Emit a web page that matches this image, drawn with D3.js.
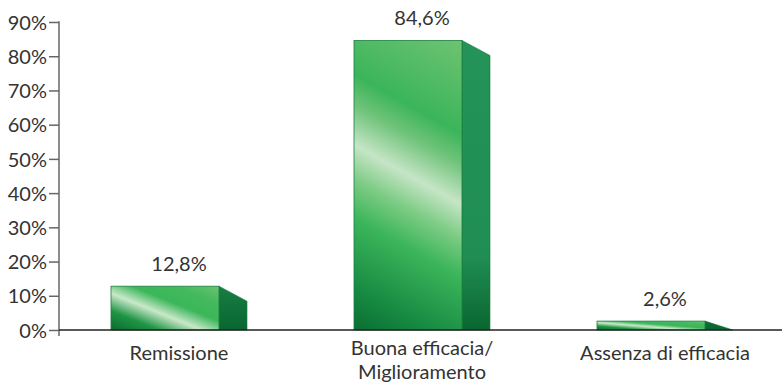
<!DOCTYPE html>
<html><head><meta charset="utf-8">
<script src="https://cdn.jsdelivr.net/npm/d3@7"></script>
<style>
body{margin:0;background:#fff;}
text{font-family:Lato,"Open Sans",sans-serif;fill:#333;}
</style></head>
<body><svg id="c" width="782" height="384"></svg>
<script>
const categories = ["Remissione", "Buona efficacia/\nMiglioramento", "Assenza di efficacia"];
const values = [12.8, 84.6, 2.6];
const valueLabels = ["12,8%", "84,6%", "2,6%"];
const yTicks = [0,10,20,30,40,50,60,70,80,90];

const svg = d3.select("#c");
const W = 782, H = 384;
const axisX = 59;
const FS = 20;
const x = d3.scaleBand().domain(categories).range([57.5, 786.5]).paddingInner(0).paddingOuter(0);
const y = d3.scaleLinear().domain([0,90]).range([330, 22]);
const frontW = 108, depthX = 28, depthY = 15;

const defs = svg.append("defs");
const fg = defs.append("linearGradient").attr("id","front").attr("x1",0).attr("y1",1).attr("x2",1).attr("y2",0);
[[0,"#0a6a2f"],[0.22,"#1f9444"],[0.42,"#c9e8c9"],[0.6,"#3bb65a"],[0.8,"#44b95d"],[1,"#6cc273"]]
  .forEach(([o,c])=>fg.append("stop").attr("offset",o).attr("stop-color",c));
const sg = defs.append("linearGradient").attr("id","side").attr("gradientUnits","userSpaceOnUse")
  .attr("x1",0).attr("y1",y(90)).attr("x2",0).attr("y2",y(0));
[[0,"#249459"],[0.76,"#208e53"],[0.88,"#157a41"],[1,"#0a6630"]]
  .forEach(([o,c])=>sg.append("stop").attr("offset",o).attr("stop-color",c));

const cx = d => x(d) + x.bandwidth()/2;
const g = svg.append("g");
categories.forEach((c,i)=>{
  const x0 = cx(c) - (frontW+depthX)/2;
  const yt = y(values[i]), y0 = y(0);
  const x1 = x0 + frontW;
  const yr = Math.min(yt + depthY, y0);
  let fill = "url(#front)";
  if (y0 - yt > 150) {
    const dx = 108, dy = 60, L = Math.hypot(dx, dy);
    const nx = -dy / L, ny = dx / L;
    const span = (x0 - x1) * nx + (y0 - yt) * ny;
    const id = "front" + i;
    const tg = defs.append("linearGradient").attr("id", id).attr("gradientUnits","userSpaceOnUse")
      .attr("x1", x1).attr("y1", yt).attr("x2", x1 + span * nx).attr("y2", yt + span * ny);
    [[0,"#6ec372"],[0.27,"#3bb55a"],[0.36,"#72c47c"],[0.47,"#c6e5c6"],[0.57,"#7ccb84"],[0.68,"#3bb55a"],[0.88,"#178a42"],[1,"#0b6d33"]]
      .forEach(([o,cc])=>tg.append("stop").attr("offset",o).attr("stop-color",cc));
    fill = `url(#${id})`;
  }
  g.append("path").attr("d", `M${x1},${yt}L${x1+depthX},${yr}L${x1+depthX},${y0}L${x1},${y0}Z`)
    .attr("fill","url(#side)").attr("stroke","#177a40").attr("stroke-width",0.6);
  g.append("rect").attr("x",x0).attr("y",yt).attr("width",frontW).attr("height",y0-yt)
    .attr("fill",fill).attr("stroke","#1b7f40").attr("stroke-width",0.8);
  svg.append("text").attr("x",cx(c)).attr("y",yt-15).attr("text-anchor","middle")
    .attr("font-size",FS).text(valueLabels[i]);
});

const ya = svg.append("g").attr("transform",`translate(${axisX},0)`)
  .call(d3.axisLeft(y).tickValues(yTicks).tickFormat(d=>d+"%").tickSize(10).tickSizeOuter(0));
ya.select(".domain").remove();
ya.selectAll(".tick line").attr("stroke","#666").attr("stroke-width",1.5);
ya.selectAll(".tick text").attr("x",-12).attr("dy","0.36em").attr("font-size",FS).attr("fill","#333")
  .style("font-family","Lato,sans-serif");
svg.append("line").attr("x1",axisX).attr("x2",axisX).attr("y1",y(90)-0.75).attr("y2",336)
  .attr("stroke","#666").attr("stroke-width",1.5);
svg.append("line").attr("x1",axisX).attr("x2",W).attr("y1",y(0)).attr("y2",y(0))
  .attr("stroke","#222").attr("stroke-width",1.5);
categories.forEach(c=>{
  const lines = c.split("\n");
  const t = svg.append("text").attr("text-anchor","middle").attr("font-size",FS);
  lines.forEach((l,j)=>t.append("tspan").attr("x",cx(c)).attr("y",(lines.length>1?355:360)+j*24).text(l));
});
</script></body></html>
